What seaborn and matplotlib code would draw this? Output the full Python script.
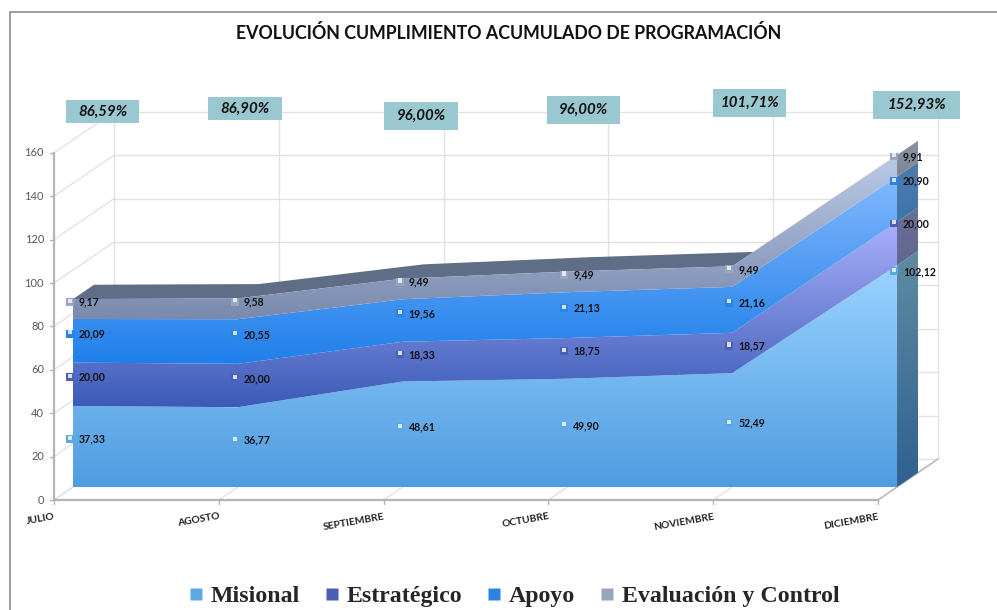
import numpy as np
import pandas as pd
import seaborn as sns
import matplotlib.pyplot as plt
from matplotlib.colors import LinearSegmentedColormap
from matplotlib.lines import Line2D
from matplotlib.patches import Polygon, Rectangle

months = ['JULIO', 'AGOSTO', 'SEPTIEMBRE', 'OCTUBRE', 'NOVIEMBRE', 'DICIEMBRE']
misional = [37.33, 36.77, 48.61, 49.90, 52.49, 102.12]
estrategico = [20.00, 20.00, 18.33, 18.75, 18.57, 20.00]
apoyo = [20.09, 20.55, 19.56, 21.13, 21.16, 20.90]
evaluacion = [9.17, 9.58, 9.49, 9.49, 9.49, 9.91]
totals = ['86,59%', '86,90%', '96,00%', '96,00%', '101,71%', '152,93%']
series_names = ['Misional', 'Estratégico', 'Apoyo', 'Evaluación y Control']
y_ticks = [0, 20, 40, 60, 80, 100, 120, 140, 160]

# pixel layout of the excel 3d box
PX_X0, PX_Y0 = 54, 500
PX_PER_CAT, PX_PER_UNIT = 164.8, 2.17
DX, DY = 60 / PX_PER_CAT, 41 / PX_PER_UNIT
FRONT, BACK = 0.317, 0.667

GRID = '#e2e2e2'
AXIS = '#b4b4b4'
FONT = 'Lato'

# bottom colour, top colour
front_colors = [('#4f9ce1', '#9ad3ff'), ('#3b5bb6', '#aab0fb'),
                ('#1f7fea', '#82b8fd'), ('#7a8aad', '#bccbe8')]
side_colors = [('#2f6090', '#5f8ca2'), ('#5f6690', '#6c7099'),
               ('#3f74aa', '#4d7cab'), ('#7d8797', '#8a92a1')]
marker_colors = ['#5aa9e2', '#4a5fb5', '#2b83e6', '#9aa4bd']

# december labels were moved by hand in the original
dec_lift = [45, 6, 5, 1]
# boxes above the chart: left, top, width, height in pixels
box_px = [(66, 100, 73, 23), (208, 97, 74, 23), (384, 102, 74, 28),
          (547, 96, 73, 28), (713, 89, 73, 28), (873, 91, 87, 28)]


def px(x, y):
    return (x - PX_X0) / PX_PER_CAT, (PX_Y0 - y) / PX_PER_UNIT


def gradient_fill(ax, verts, colors, y_range, zorder):
    poly = Polygon(verts, closed=True, transform=ax.transData, fc='none', ec='none')
    cmap = LinearSegmentedColormap.from_list('band', colors)
    xs = [v[0] for v in verts]
    im = ax.imshow(np.linspace(1, 0, 256).reshape(-1, 1), cmap=cmap, vmin=0, vmax=1,
                   extent=[min(xs), max(xs), y_range[0], y_range[1]],
                   aspect='auto', zorder=zorder, interpolation='bilinear')
    ax.add_patch(poly)
    im.set_clip_path(poly)


sns.set_theme(style='white')
fig = plt.figure(figsize=(9.97, 6.1), dpi=100)
ax = fig.add_axes([0, 0, 1, 1])
ax.set_axis_off()

n = len(months)
cat = np.arange(n)
stack = np.array([misional, estrategico, apoyo, evaluacion])
cum = np.cumsum(stack, axis=0)
lower = np.vstack([np.zeros(n), cum[:-1]])

# walls
for t in y_ticks:
    ax.plot([0, DX], [t, t + DY], color=GRID, lw=1, zorder=1)
    ax.plot([DX, n - 1 + DX], [t + DY, t + DY], color=GRID, lw=1, zorder=1)
for i in cat:
    ax.plot([i + DX, i + DX], [DY, 160 + DY], color=GRID, lw=1, zorder=1)
    ax.plot([i, i + DX], [0, DY], color=GRID, lw=1, zorder=1)
ax.plot([n - 1, n - 1 + DX], [0, DY], color=AXIS, lw=1, zorder=1)

# stacked faces
x_front = cat + FRONT * DX
base_front = FRONT * DY
x_back = cat + BACK * DX
base_back = BACK * DY
top_verts = list(zip(x_front, cum[-1] + base_front)) + list(zip(x_back[::-1], cum[-1][::-1] + base_back))
ax.add_patch(Polygon(top_verts, closed=True, fc='#5f6d86', ec='none', zorder=2))

for k in range(4):
    y_lo = lower[k].min() + base_front
    y_hi = cum[k].max() + base_front
    verts = list(zip(x_front, cum[k] + base_front)) + list(zip(x_front[::-1], lower[k][::-1] + base_front))
    gradient_fill(ax, verts, front_colors[k], (y_lo, y_hi), 4)
    side = [(x_front[-1], lower[k][-1] + base_front), (x_back[-1], lower[k][-1] + base_back),
            (x_back[-1], cum[k][-1] + base_back), (x_front[-1], cum[k][-1] + base_front)]
    gradient_fill(ax, side, side_colors[k], (lower[k][-1] + base_front, cum[k][-1] + base_back), 3)

# axes lines
ax.plot([0, 0], [0, 160], color=AXIS, lw=1.6, zorder=5)
ax.plot([0, n - 1], [0, 0], color=AXIS, lw=1.6, zorder=5)
for t in y_ticks:
    ax.plot([-4 / PX_PER_CAT, 0], [t, t], color=AXIS, lw=1, zorder=5)
    ax.text(-10 / PX_PER_CAT, t, str(t), ha='right', va='center', color='#595959', fontsize=8,
            family=FONT)
for i, m in zip(cat, months):
    ax.plot([i, i], [0, -4 / PX_PER_UNIT], color=AXIS, lw=1, zorder=5)
    ax.text(i, -12 / PX_PER_UNIT, m, ha='right', va='top', rotation=10, rotation_mode='anchor',
            fontsize=7.4, fontweight='bold', color='#222222', family=FONT)

# data labels
rows = []
for k, name in enumerate(series_names):
    for i in cat:
        mid = (lower[k][i] + cum[k][i]) / 2 + base_front + 3.3
        if i == n - 1:
            mid += dec_lift[k]
        rows.append({'serie': name, 'x': i + 16 / PX_PER_CAT, 'y': mid, 'v': stack[k][i]})
labels = pd.DataFrame(rows)
sns.scatterplot(data=labels, x='x', y='y', hue='serie', palette=dict(zip(series_names, marker_colors)),
                marker='s', s=32, edgecolor='none', legend=False, zorder=6, ax=ax)
sns.scatterplot(data=labels, x='x', y=labels['y'] + 0.6, color='#f2f6fb', marker='s', s=9, alpha=0.85,
                edgecolor='none', legend=False, zorder=7, ax=ax)
for _, r in labels.iterrows():
    ax.text(r['x'] + 9 / PX_PER_CAT, r['y'], f"{r['v']:.2f}".replace('.', ','), ha='left', va='center',
            fontsize=7.6, fontweight='bold', color='#111111', family=FONT, zorder=8)

# total boxes
for (bx, by, bw, bh), label in zip(box_px, totals):
    x0, y1 = px(bx, by)
    x1, y0 = px(bx + bw, by + bh)
    ax.add_patch(Rectangle((x0, y0), x1 - x0, y1 - y0, fc='#9ac8d0', ec='none', zorder=9))
    ax.text((x0 + x1) / 2, (y0 + y1) / 2, label, ha='center', va='center', fontsize=10.8,
            fontweight='bold', style='italic', color='#111111', family=FONT, zorder=10)

# frame of the pasted picture
fx, fy0 = px(10, 12)
fx1, _ = px(997, 12)
_, fy1 = px(10, 610)
ax.plot([fx, fx], [fy0, fy1], color='#8c8c8c', lw=1.2, zorder=1)
ax.plot([fx, fx1], [fy0, fy0], color='#8c8c8c', lw=1.2, zorder=1)

tx, ty = px(509, 33)
ax.text(tx, ty, 'EVOLUCIÓN CUMPLIMIENTO ACUMULADO DE PROGRAMACIÓN', ha='center', va='center',
        fontsize=12.8, fontweight='bold', color='#111111', family=FONT)

handles = [Line2D([], [], ls='none', marker='s', markersize=8.6, mfc=c, mec='none', label=s)
           for c, s in zip(marker_colors, series_names)]
lx, ly = px(513, 596)
ax.legend(handles=handles, loc='center', bbox_to_anchor=(lx, ly), bbox_transform=ax.transData,
          ncol=4, frameon=False, columnspacing=0.95, handletextpad=0.2, handlelength=0.8,
          prop={'family': 'Liberation Serif', 'weight': 'bold', 'size': 17.2})

x_lo, y_hi = px(0, 0)
x_hi, y_lo = px(997, 610)
ax.set_xlim(x_lo, x_hi)
ax.set_ylim(y_lo, y_hi)
fig.savefig('out.png', dpi=100, facecolor='white')
